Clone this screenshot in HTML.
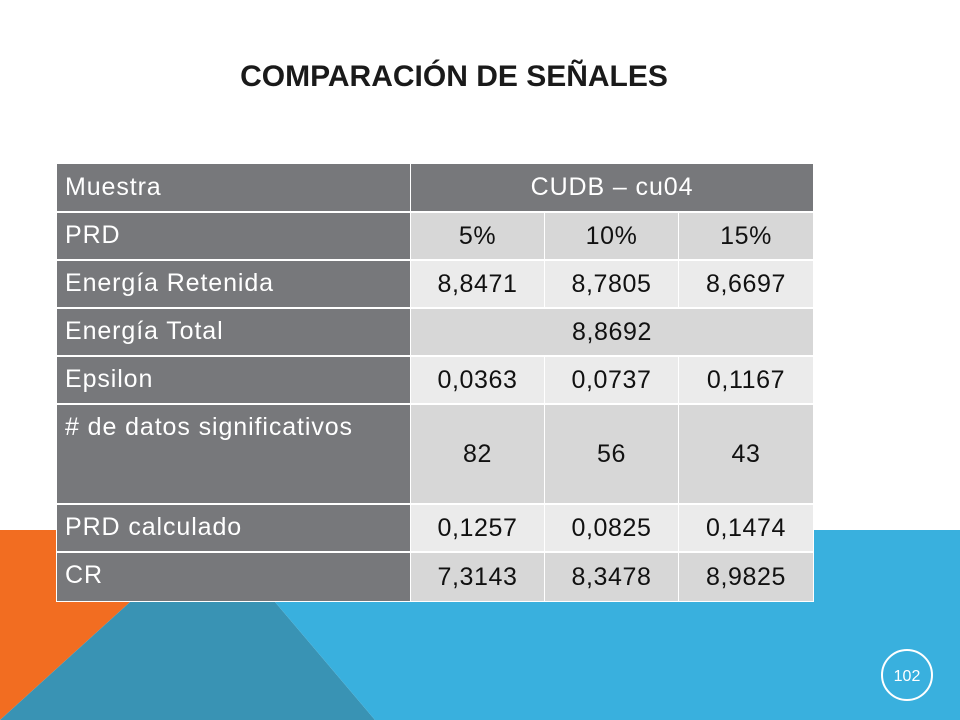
<!DOCTYPE html>
<html><head><meta charset="utf-8"><style>
body{margin:0;width:960px;height:720px;overflow:hidden;background:#fff;position:relative;font-family:"Liberation Sans",sans-serif}
.c{position:absolute;box-sizing:border-box;font-size:23px;display:flex;align-items:center;white-space:nowrap}
.l{background:#77787b;color:#fff;padding-left:8px;align-items:flex-start;padding-top:8px;font-size:25px;letter-spacing:0.9px}
.v{justify-content:center;color:#111;font-size:25px;letter-spacing:0.6px}
</style></head><body>
<svg width="960" height="720" style="position:absolute;left:0;top:0">
<polygon points="0,530 60,530 60,602 130,602 0,720" fill="#f26d21"/>
<polygon points="130,602 275,602 375,720 0,720" fill="#3993b4"/>
<polygon points="220,530 960,530 960,720 375,720 275,602" fill="#39b0de"/>
<rect x="56" y="163" width="758" height="439" fill="#fff"/>
<circle cx="907" cy="675" r="25" fill="none" stroke="#fff" stroke-width="2"/>
<text x="907" y="681" fill="#fff" font-size="16" text-anchor="middle" font-family="Liberation Sans, sans-serif">102</text>
</svg>
<div style="position:absolute;left:0;width:908px;top:60px;text-align:center;font-size:30px;font-weight:bold;color:#1a1a1a">COMPARACIÓN DE SEÑALES</div>
<div style="position:absolute;left:0;top:0">
<div class="c l" style="left:57px;top:164px;width:353px;height:47px;padding-top:9px">Muestra</div>
<div class="c" style="left:411px;top:164px;width:402px;height:47px;background:#77787b;color:#fff;justify-content:center;font-size:25px;letter-spacing:0.9px">CUDB – cu04</div>

<div class="c l" style="left:57px;top:213px;width:353px;height:46px">PRD</div>
<div class="c v" style="left:411px;top:213px;width:133px;height:46px;background:#d7d7d7">5%</div>
<div class="c v" style="left:545px;top:213px;width:133px;height:46px;background:#d7d7d7">10%</div>
<div class="c v" style="left:679px;top:213px;width:134px;height:46px;background:#d7d7d7">15%</div>

<div class="c l" style="left:57px;top:261px;width:353px;height:46px">Energía Retenida</div>
<div class="c v" style="left:411px;top:261px;width:133px;height:46px;background:#ebebeb">8,8471</div>
<div class="c v" style="left:545px;top:261px;width:133px;height:46px;background:#ebebeb">8,7805</div>
<div class="c v" style="left:679px;top:261px;width:134px;height:46px;background:#ebebeb">8,6697</div>

<div class="c l" style="left:57px;top:309px;width:353px;height:46px">Energía Total</div>
<div class="c v" style="left:411px;top:309px;width:402px;height:46px;background:#d7d7d7">8,8692</div>

<div class="c l" style="left:57px;top:357px;width:353px;height:46px">Epsilon</div>
<div class="c v" style="left:411px;top:357px;width:133px;height:46px;background:#ebebeb">0,0363</div>
<div class="c v" style="left:545px;top:357px;width:133px;height:46px;background:#ebebeb">0,0737</div>
<div class="c v" style="left:679px;top:357px;width:134px;height:46px;background:#ebebeb">0,1167</div>

<div class="c l" style="left:57px;top:405px;width:353px;height:98px"># de datos significativos</div>
<div class="c v" style="left:411px;top:405px;width:133px;height:98px;background:#d7d7d7">82</div>
<div class="c v" style="left:545px;top:405px;width:133px;height:98px;background:#d7d7d7">56</div>
<div class="c v" style="left:679px;top:405px;width:134px;height:98px;background:#d7d7d7">43</div>

<div class="c l" style="left:57px;top:505px;width:353px;height:46px">PRD calculado</div>
<div class="c v" style="left:411px;top:505px;width:133px;height:46px;background:#ebebeb">0,1257</div>
<div class="c v" style="left:545px;top:505px;width:133px;height:46px;background:#ebebeb">0,0825</div>
<div class="c v" style="left:679px;top:505px;width:134px;height:46px;background:#ebebeb">0,1474</div>

<div class="c l" style="left:57px;top:553px;width:353px;height:48px">CR</div>
<div class="c v" style="left:411px;top:553px;width:133px;height:48px;background:#d7d7d7">7,3143</div>
<div class="c v" style="left:545px;top:553px;width:133px;height:48px;background:#d7d7d7">8,3478</div>
<div class="c v" style="left:679px;top:553px;width:134px;height:48px;background:#d7d7d7">8,9825</div>
</div>
</body></html>
